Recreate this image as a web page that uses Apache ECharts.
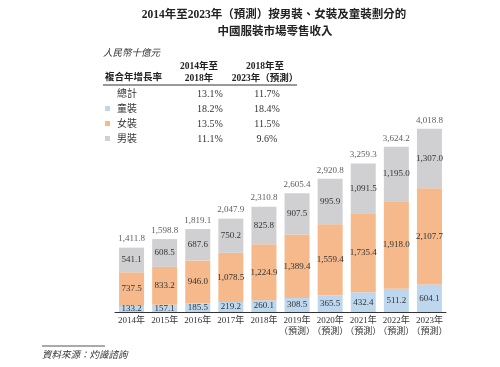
<!DOCTYPE html>
<html><head><meta charset="utf-8">
<script src="https://cdn.jsdelivr.net/npm/echarts@6/dist/echarts.min.js"></script>
<style>html,body{margin:0;padding:0;background:#fff}#c{width:500px;height:367px}</style>
</head><body><div id="c"></div>
<script>
const years = ['2014年','2015年','2016年','2017年','2018年','2019年\n（預測）','2020年\n（預測）','2021年\n（預測）','2022年\n（預測）','2023年\n（預測）'];
const kids = [133.2,157.1,185.5,219.2,260.1,308.5,365.5,432.4,511.2,604.1];
const women = [737.5,833.2,946.0,1078.5,1224.9,1389.4,1559.4,1735.4,1918.0,2107.7];
const men = [541.1,608.5,687.6,750.2,825.8,907.5,995.9,1091.5,1195.0,1307.0];
const totals = [1411.8,1598.8,1819.1,2047.9,2310.8,2605.4,2920.8,3259.3,3624.2,4018.8];
const seriesNames = ['童裝','女裝','男裝'];
const colors = ['#bdd7ee','#f5b98b','#d0d0d2'];
const cagrRows = ['總計','童裝','女裝','男裝'];
const cagr1418 = ['13.1%','18.2%','13.5%','11.1%'];
const cagr1823 = ['11.7%','18.4%','11.5%','9.6%'];

const serif = '"Liberation Serif","DejaVu Serif","Noto Sans CJK TC",serif';
const fmt = v => v.toLocaleString('en-US',{minimumFractionDigits:1,maximumFractionDigits:1});
const chart = echarts.init(document.getElementById('c'));

const g = [];
g.push({type:'text',x:274,y:15,style:{text:'2014年至2023年（預測）按男裝、女裝及童裝劃分的',font:'bold 11.5px '+serif,fill:'#222',textAlign:'center',textVerticalAlign:'middle'}});
g.push({type:'text',x:275,y:32,style:{text:'中國服裝市場零售收入',font:'bold 11.5px '+serif,fill:'#222',textAlign:'center',textVerticalAlign:'middle'}});
g.push({type:'text',x:103,y:53,style:{text:'人民幣十億元',font:'italic 9.5px '+serif,fill:'#333',textVerticalAlign:'middle'}});
g.push({type:'text',x:105,y:78,style:{text:'複合年增長率',font:'bold 9.5px '+serif,fill:'#222',textVerticalAlign:'middle'}});
g.push({type:'text',x:199,y:67,style:{text:'2014年至',font:'bold 9.5px '+serif,fill:'#222',textAlign:'center',textVerticalAlign:'middle'}});
g.push({type:'text',x:199,y:79,style:{text:'2018年',font:'bold 9.5px '+serif,fill:'#222',textAlign:'center',textVerticalAlign:'middle'}});
g.push({type:'text',x:265,y:67,style:{text:'2018年至',font:'bold 9.5px '+serif,fill:'#222',textAlign:'center',textVerticalAlign:'middle'}});
g.push({type:'text',x:265,y:79,style:{text:'2023年（預測）',font:'bold 9.5px '+serif,fill:'#222',textAlign:'center',textVerticalAlign:'middle'}});
g.push({type:'line',shape:{x1:103,y1:85,x2:297,y2:85},style:{stroke:'#333',lineWidth:1}});
cagrRows.forEach((r,i)=>{
  const y = 94 + i*15;
  if(i>0) g.push({type:'rect',shape:{x:105,y:y-3,width:5,height:5},style:{fill:colors[i-1]}});
  g.push({type:'text',x:117,y:y,style:{text:r,font:'10px '+serif,fill:'#333',textVerticalAlign:'middle'}});
  g.push({type:'text',x:210,y:y,style:{text:cagr1418[i],font:'10px '+serif,fill:'#333',textAlign:'center',textVerticalAlign:'middle'}});
  g.push({type:'text',x:267,y:y,style:{text:cagr1823[i],font:'10px '+serif,fill:'#333',textAlign:'center',textVerticalAlign:'middle'}});
});
g.push({type:'line',shape:{x1:42,y1:346,x2:105,y2:346},style:{stroke:'#555',lineWidth:1}});
g.push({type:'text',x:42,y:355,style:{text:'資料來源：灼識諮詢',font:'italic 9.5px '+serif,fill:'#333',textVerticalAlign:'middle'}});

const segLabel = {show:true,position:'inside',formatter:p=>fmt(p.value),fontFamily:serif,fontSize:9,color:'#333'};
const series = [kids,women,men].map((d,i)=>({
  name:seriesNames[i],type:'bar',stack:'t',data:d,barWidth:25,
  itemStyle:{color:colors[i]},label:segLabel,silent:true
}));
series.push({type:'scatter',data:totals,symbol:'circle',symbolSize:2,itemStyle:{color:'rgba(0,0,0,0)'},silent:true,
  label:{show:true,position:'top',distance:3,formatter:p=>fmt(p.value),fontFamily:serif,fontSize:9,color:'#333'}});

chart.setOption({
  animation:false,
  graphic:g,
  grid:{left:115,right:54,top:84,bottom:55},
  xAxis:{type:'category',data:years,axisTick:{show:false},
    axisLine:{lineStyle:{color:'#333',width:1}},
    axisLabel:{fontFamily:serif,fontSize:9,color:'#333',margin:3,lineHeight:11,interval:0}},
  yAxis:{type:'value',min:0,max:5000,show:false,splitLine:{show:false}},
  series:series
});
</script></body></html>
